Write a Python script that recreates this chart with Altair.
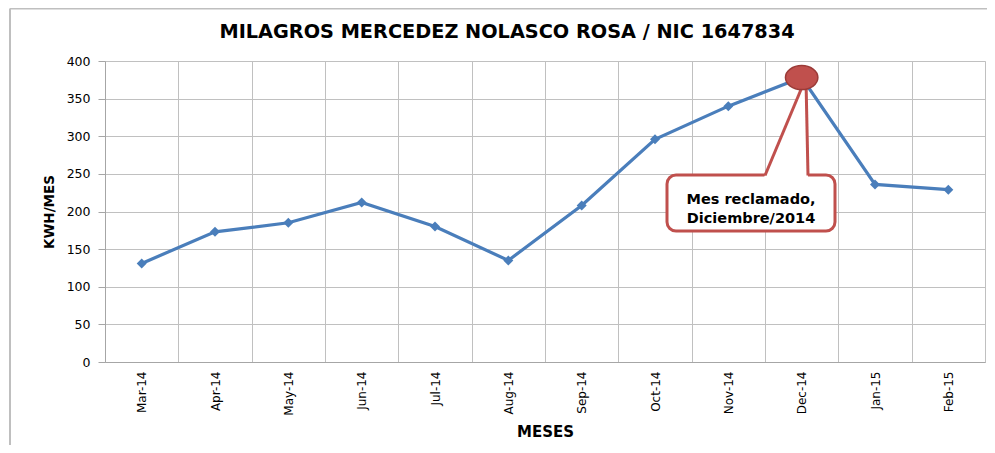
import altair as alt
import pandas as pd

months = ["Mar-14", "Apr-14", "May-14", "Jun-14", "Jul-14", "Aug-14",
          "Sep-14", "Oct-14", "Nov-14", "Dec-14", "Jan-15", "Feb-15"]
kwh = [131, 173, 185, 212, 180, 135, 208, 296, 340, 378, 236, 229]
y_ticks = [0, 50, 100, 150, 200, 250, 300, 350, 400]
claimed_month = "Dec-14"
title_text = "MILAGROS MERCEDEZ NOLASCO ROSA / NIC 1647834"
callout_lines = ["Mes reclamado,", "Diciembre/2014"]

df = pd.DataFrame({"Mes": months, "KWH": kwh})

W, H = 880, 301
BLUE = "#4A7EBB"
RED = "#C0504D"
GRID = "#C0C0C0"
FONT = "DejaVu Sans"

xscale = alt.Scale(type="band", domain=months, paddingInner=0, paddingOuter=0)
yscale = alt.Scale(domain=[0, 400], nice=False)

x_enc = alt.X(
    "Mes:N", sort=months, scale=xscale, bandPosition=0.5, title="MESES",
    axis=alt.Axis(labelAngle=270, grid=True, tickBand="extent", ticks=False,
                  tickSize=0, labelPadding=9, labelFont=FONT, labelFontSize=12,
                  labelColor="#000000", titleFont=FONT, titleFontSize=15,
                  titleFontWeight="bold", titleColor="#000000", titlePadding=9,
                  gridColor=GRID, domainColor="#A6A6A6"))
y_enc = alt.Y(
    "KWH:Q", scale=yscale, title="KWH/MES",
    axis=alt.Axis(values=y_ticks, grid=True, tickSize=7, tickColor="#A6A6A6",
                  labelPadding=8, labelFont=FONT, labelFontSize=12.5,
                  labelColor="#000000", titleFont=FONT, titleFontSize=13.5,
                  titleFontWeight="bold", titleColor="#000000", titlePadding=10,
                  gridColor=GRID, domainColor="#A6A6A6"))

base = alt.Chart(df)
line = base.mark_line(color=BLUE, strokeWidth=3.2).encode(x=x_enc, y=y_enc)
points = base.mark_point(shape="diamond", filled=True, size=100, color=BLUE,
                         opacity=1).encode(x=x_enc, y=y_enc)
main = alt.layer(line, points)

one = pd.DataFrame({"k": [0]})

box = alt.Chart(one).mark_rect(fill="white", stroke=RED, strokeWidth=3,
                               cornerRadius=9).encode(
    x=alt.value(562), x2=alt.value(730), y=alt.value(114), y2=alt.value(170))

ptr = pd.DataFrame({"py": [19, 116.5], "px": [700, 659], "px2": [701.5, 703]})
pointer_fill = alt.Chart(ptr).mark_area(orient="horizontal", color="white",
                                        opacity=1).encode(
    y=alt.Y("py:Q", scale=None, axis=None),
    x=alt.X("px:Q", scale=None, axis=None),
    x2="px2:Q")

ptr_left = alt.Chart(one).mark_rule(color=RED, strokeWidth=3).encode(
    x=alt.value(660), x2=alt.value(700), y=alt.value(114.5), y2=alt.value(19))
ptr_right = alt.Chart(one).mark_rule(color=RED, strokeWidth=3).encode(
    x=alt.value(703), x2=alt.value(701), y=alt.value(114.5), y2=alt.value(19))

callout_text = alt.Chart(one).mark_text(
    text=callout_lines, font=FONT, fontSize=14.5, fontWeight="bold",
    color="#000000", align="center", baseline="middle", lineHeight=18.5).encode(
    x=alt.value(646), y=alt.value(139))

circle_path = "M -1 0 A 1 0.74 0 1 0 1 0 A 1 0.74 0 1 0 -1 0 Z"
circle = alt.Chart(df).transform_filter(
    alt.datum.Mes == claimed_month).mark_point(
    shape=circle_path, size=1050, filled=True, fill=RED, stroke="#9B3B38",
    strokeWidth=1.5, opacity=1).encode(
    x=alt.X("Mes:N", scale=xscale, bandPosition=0.5, axis=None),
    y=alt.Y("KWH:Q", scale=yscale, axis=None))

title = alt.Chart(one).mark_text(
    text=title_text, font=FONT, fontSize=19.3, fontWeight="bold",
    color="#000000", align="center", baseline="middle").encode(
    x=alt.value(402), y=alt.value(-29))

frame_left = alt.Chart(one).mark_rule(color="#BFBFBF", strokeWidth=2).encode(
    x=alt.value(-95), y=alt.value(-52.5), y2=alt.value(400))
frame_top = alt.Chart(one).mark_rule(color="#BFBFBF", strokeWidth=2).encode(
    x=alt.value(-95), x2=alt.value(890), y=alt.value(-52.5))

chart = alt.layer(
    main, box, pointer_fill, ptr_left, ptr_right, callout_text, circle,
    title, frame_left, frame_top
).resolve_scale(x="independent", y="independent").properties(
    width=W, height=H,
    autosize=alt.AutoSizeParams(type="none"),
    padding={"left": 97, "top": 53, "right": 2, "bottom": 83},
).configure_view(stroke=None).configure(background="white")

chart.save("out.html", embed_options={"renderer": "svg", "actions": False})
